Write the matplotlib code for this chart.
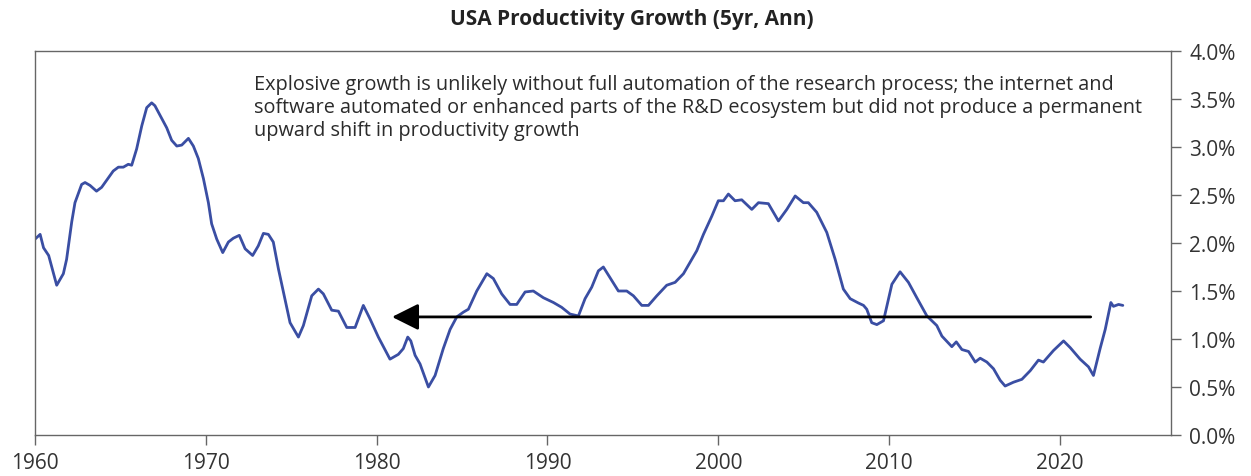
import matplotlib
matplotlib.use("Agg")
import matplotlib.pyplot as plt
from matplotlib.ticker import FuncFormatter

years = [1960.0, 1960.3, 1960.5, 1960.8, 1961.27, 1961.66, 1961.85, 1962.15, 1962.34, 1962.73,
         1962.93, 1963.22, 1963.6, 1963.9, 1964.3, 1964.58, 1964.88, 1965.17, 1965.46, 1965.66,
         1965.95, 1966.25, 1966.54, 1966.83, 1967.02, 1967.32, 1967.71, 1968.0, 1968.3, 1968.59,
         1968.98, 1969.27, 1969.56, 1969.86, 1970.15, 1970.34, 1970.64, 1970.99, 1971.32, 1971.61,
         1971.96, 1972.3, 1972.74, 1973.07, 1973.37, 1973.66, 1973.95, 1974.25, 1974.54, 1974.93,
         1975.42, 1975.71, 1976.2, 1976.59, 1976.88, 1977.37, 1977.76, 1978.25, 1978.74, 1979.22,
         1979.61, 1980.1, 1980.78, 1981.27, 1981.56, 1981.82, 1982.0, 1982.25, 1982.54, 1983.03,
         1983.42, 1983.9, 1984.3, 1984.69, 1985.08, 1985.37, 1985.86, 1986.45, 1986.83, 1987.32,
         1987.81, 1988.2, 1988.69, 1989.17, 1989.76, 1990.35, 1990.83, 1991.32, 1991.81, 1992.2,
         1992.59, 1992.98, 1993.27, 1993.66, 1994.15, 1994.64, 1995.03, 1995.52, 1995.91, 1996.4,
         1996.98, 1997.47, 1997.96, 1998.35, 1998.74, 1999.13, 1999.62, 2000.0, 2000.3, 2000.59,
         2000.98, 2001.37, 2001.96, 2002.35, 2002.93, 2003.52, 2004.01, 2004.5, 2004.98, 2005.27,
         2005.76, 2006.35, 2006.84, 2007.32, 2007.72, 2008.2, 2008.5, 2008.69, 2008.98, 2009.28,
         2009.67, 2010.16, 2010.64, 2011.13, 2011.62, 2012.21, 2012.79, 2013.09, 2013.67, 2013.93,
         2014.26, 2014.65, 2015.04, 2015.33, 2015.72, 2016.11, 2016.5, 2016.79, 2017.28, 2017.77,
         2018.26, 2018.74, 2019.03, 2019.62, 2020.21, 2020.6, 2021.18, 2021.67, 2021.96, 2022.35,
         2022.65, 2022.98, 2023.13, 2023.43, 2023.68]

growth = [2.04, 2.09, 1.95, 1.87, 1.56, 1.68, 1.83, 2.22, 2.42, 2.61,
          2.63, 2.60, 2.54, 2.58, 2.68, 2.75, 2.79, 2.79, 2.82, 2.81,
          2.98, 3.22, 3.41, 3.46, 3.43, 3.33, 3.20, 3.07, 3.01, 3.02,
          3.09, 3.01, 2.88, 2.67, 2.42, 2.20, 2.04, 1.90, 2.01, 2.05,
          2.08, 1.94, 1.87, 1.97, 2.10, 2.09, 2.01, 1.73, 1.49, 1.17,
          1.02, 1.14, 1.45, 1.52, 1.47, 1.30, 1.29, 1.12, 1.12, 1.35,
          1.21, 1.02, 0.79, 0.84, 0.90, 1.02, 0.98, 0.83, 0.74, 0.50,
          0.62, 0.90, 1.10, 1.23, 1.28, 1.31, 1.50, 1.68, 1.63, 1.47,
          1.36, 1.36, 1.49, 1.50, 1.43, 1.38, 1.33, 1.26, 1.24, 1.42,
          1.54, 1.71, 1.75, 1.64, 1.50, 1.50, 1.45, 1.35, 1.35, 1.45,
          1.56, 1.59, 1.68, 1.80, 1.92, 2.09, 2.28, 2.44, 2.44, 2.51,
          2.44, 2.45, 2.35, 2.42, 2.41, 2.23, 2.35, 2.49, 2.42, 2.42,
          2.32, 2.11, 1.83, 1.52, 1.42, 1.375, 1.35, 1.31, 1.17, 1.15,
          1.19, 1.57, 1.70, 1.59, 1.43, 1.24, 1.14, 1.03, 0.92, 0.97,
          0.89, 0.87, 0.76, 0.80, 0.76, 0.69, 0.57, 0.51, 0.55, 0.58,
          0.67, 0.78, 0.76, 0.88, 0.98, 0.91, 0.79, 0.71, 0.62, 0.90,
          1.10, 1.38, 1.34, 1.36, 1.35]

x_ticks = [1960, 1970, 1980, 1990, 2000, 2010, 2020]
y_ticks = [0.0, 0.5, 1.0, 1.5, 2.0, 2.5, 3.0, 3.5, 4.0]

arrow_from = (2021.8, 1.23)
arrow_to = (1980.9, 1.23)

title = "USA Productivity Growth (5yr, Ann)"
note = ("Explosive growth is unlikely without full automation of the research process; the internet and\n"
        "software automated or enhanced parts of the R&D ecosystem but did not produce a permanent\n"
        "upward shift in productivity growth")

plt.rcParams['font.family'] = ['Open Sans', 'DejaVu Sans']

fig = plt.figure(figsize=(12.51, 4.77), dpi=100)
ax = fig.add_axes([35/1251, 1-436/477, (1171-35)/1251, (436-52)/477])

ax.plot(years, growth, color='#3a4ea3', lw=2.0, solid_capstyle='round', solid_joinstyle='round')

ax.annotate('', xy=arrow_to, xytext=arrow_from,
            arrowprops=dict(arrowstyle='-|>,head_length=0.9,head_width=0.45', color='black',
                            lw=2.0, shrinkA=0, shrinkB=0, mutation_scale=18))

ax.text(1972.8, 3.76, note, fontsize=14.3, color='#2b2b2b', va='top', ha='left', linespacing=1.2)

ax.set_xlim(1960, 2026.5)
ax.set_ylim(0, 4.0)
ax.set_xticks(x_ticks)
ax.set_yticks(y_ticks)
ax.yaxis.tick_right()
ax.yaxis.set_major_formatter(FuncFormatter(lambda v, p: f"{v:.1f}%"))

for s in ax.spines.values():
    s.set_color('#666666')
    s.set_linewidth(1.0)

ax.tick_params(axis='both', direction='out', length=7, width=1.0, color='#666666',
               labelsize=15, labelcolor='#333333')
ax.tick_params(axis='y', pad=6)
ax.tick_params(axis='x', pad=5)

fig.text(632/1251, 1-19/477, title, fontsize=15, fontweight='bold', color='#222222',
         ha='center', va='center')

fig.savefig('out.png', dpi=100)
